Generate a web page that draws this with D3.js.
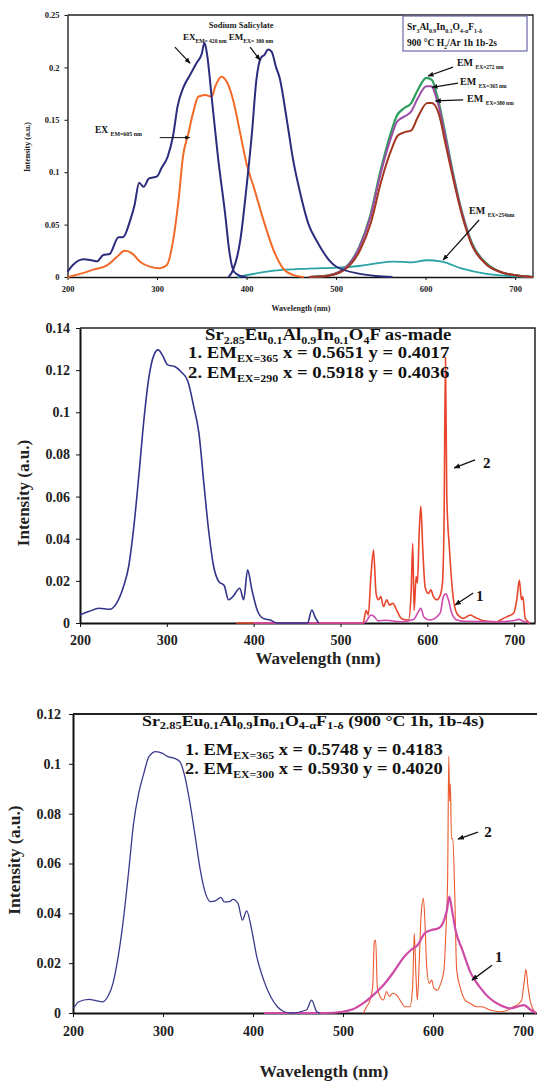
<!DOCTYPE html>
<html>
<head>
<meta charset="utf-8">
<script src="https://cdn.jsdelivr.net/npm/d3@7"></script>
<style>
  body { margin: 0; background: #fff; }
  svg text { font-family: "Liberation Serif", "Times New Roman", serif; font-weight: bold; }
</style>
</head>
<body>
<div id="chart"></div>
<script>
// ---- panel 1 : Sr3Al0.9In0.1O4-aF1-d, 900 C H2/Ar  (wavelength nm, intensity a.u.)
const p1XTicks = [200, 300, 400, 500, 600, 700];
const p1YTicks = [0, 0.05, 0.1, 0.15, 0.2, 0.25];
const salicylateEx = [[200,0.005],[206,0.0115],[218,0.017],[227,0.016],[233,0.015],[240,0.021],[247,0.022],[257,0.038],[262,0.038],[270,0.054],[275,0.069],[280,0.09],[285,0.086],[291,0.094],[300,0.096],[305,0.104],[312,0.115],[318,0.135],[323,0.163],[329,0.18],[337,0.193],[344,0.204],[350,0.213],[353,0.2235],[356,0.212],[361,0.172],[368,0.115],[376,0.061],[381,0.023],[386,0.005],[393,0.001],[400,0]];
const salicylateEm = [[380,0],[385,0.0067],[393,0.035],[400,0.086],[406,0.137],[411,0.188],[416,0.209],[420,0.212],[424,0.217],[428,0.215],[433,0.2],[437,0.19],[445,0.15],[452,0.112],[460,0.08],[469,0.051],[478,0.035],[500,0.01],[527,0.003],[545,0.001],[563,0]];
const ex605 = [[200,0],[214,0.003],[229,0.007],[244,0.011],[255,0.019],[264,0.025],[272,0.0226],[281,0.0146],[292,0.0099],[303,0.0083],[311,0.0114],[318,0.035],[324,0.073],[329,0.115],[335,0.137],[341,0.159],[346,0.172],[354,0.1736],[361,0.172],[365,0.1816],[372,0.191],[378,0.186],[385,0.169],[393,0.137],[400,0.108],[408,0.086],[419,0.054],[430,0.026],[441,0.008],[452,0.002],[464,0]];
const em272 = [[470,0],[488,0.001],[507,0.0067],[526,0.029],[538,0.058],[549,0.099],[561,0.137],[568,0.154],[576,0.161],[584,0.166],[591,0.178],[601,0.190],[607,0.188],[614,0.169],[622,0.137],[630,0.102],[641,0.061],[652,0.032],[668,0.013],[683,0.005],[706,0.001],[720,0]];
const em365 = [[470,0],[488,0.001],[507,0.0065],[526,0.028],[538,0.056],[549,0.096],[561,0.132],[568,0.148],[576,0.153],[584,0.158],[591,0.170],[601,0.182],[606,0.182],[614,0.165],[622,0.134],[630,0.100],[641,0.060],[652,0.031],[668,0.012],[683,0.005],[706,0.001],[720,0]];
const em380 = [[470,0],[490,0.001],[508,0.006],[527,0.026],[539,0.052],[550,0.090],[562,0.122],[569,0.135],[576,0.138],[584,0.140],[591,0.152],[602,0.166],[607,0.166],[615,0.155],[622,0.128],[630,0.097],[641,0.058],[652,0.030],[668,0.012],[683,0.005],[706,0.001],[720,0]];
const em254 = [[390,0],[431,0.006],[469,0.008],[500,0.009],[526,0.0105],[545,0.013],[563,0.0146],[575,0.0145],[584,0.014],[601,0.016],[618,0.0146],[641,0.008],[668,0.003],[691,0.001],[720,0]];

// ---- panel 2 : Sr2.85Eu0.1Al0.9In0.1O4F as-made
const p2XTicks = [200, 300, 400, 500, 600, 700];
const p2YTicks = [0, 0.02, 0.04, 0.06, 0.08, 0.1, 0.12, 0.14];
const p2Ex = [[200,0.0038],[210,0.0054],[222,0.007],[234,0.0065],[242,0.0093],[250,0.0172],[256,0.0267],[262,0.0457],[268,0.071],[273.5,0.096],[279.5,0.117],[285,0.127],[290,0.1296],[295,0.127],[301,0.1225],[309,0.1217],[317,0.119],[324,0.115],[331,0.1027],[337,0.09],[343,0.0647],[348.5,0.0426],[354,0.0267],[360,0.0196],[366,0.0178],[371,0.011],[376,0.0125],[384,0.0165],[388.5,0.011],[393,0.0252],[398,0.0157],[404,0.0062],[411,0.0022],[419,0.0014],[427,0],[462,0],[467,0.0062],[471,0.0025],[475,0]];
const p2Em290 = [[380,0],[526,0],[529.5,0.006],[532,0.0038],[535,0.022],[538,0.0346],[541,0.014],[543.7,0.011],[546.4,0.0125],[549.5,0.0078],[553.3,0.011],[556.4,0.0085],[560.2,0.0093],[564.8,0.006],[570.6,0.002],[578.3,0.0014],[581.3,0.014],[583.2,0.0378],[584.8,0.006],[587.1,0.022],[588.6,0.019],[590.6,0.0425],[592.5,0.0555],[594.8,0.0346],[597.5,0.017],[601.3,0.014],[604,0.0157],[607,0.0125],[610.9,0.011],[614.7,0.013],[617.4,0.019],[619.3,0.05],[620.9,0.126],[622.4,0.06],[625.5,0.035],[629.3,0.014],[633.9,0.0046],[641.5,0.0022],[649.3,0.0038],[655,0.0027],[664.7,0.0011],[680,0.0006],[687.7,0.0022],[693.5,0.0033],[699.3,0.0046],[703,0.011],[706,0.0204],[708.4,0.011],[710,0.0125],[712.7,0.0022],[718.4,0]];
const p2Em365 = [[400,0],[526,0],[530,0.001],[535,0.0038],[538,0.0033],[543.7,0.001],[552,0.0013],[569,0.0006],[584,0.0017],[589.8,0.0054],[592.5,0.007],[596.3,0.0027],[603,0.0014],[614.7,0.0046],[618.5,0.0125],[621.3,0.0138],[624.3,0.011],[628.2,0.0046],[634,0.0014],[643,0.0008],[681,0.0006],[699.3,0.0011],[705,0.0017],[710.7,0.0008],[718,0]];

// ---- panel 3 : Sr2.85Eu0.1Al0.9In0.1O4-aF1-d (900 C 1h, 1b-4s)
const p3XTicks = [200, 300, 400, 500, 600, 700];
const p3YTicks = [0, 0.02, 0.04, 0.06, 0.08, 0.1, 0.12];
const p3Ex = [[200.7,0.0019],[206.4,0.0045],[217.8,0.0055],[225.4,0.005],[233,0.0045],[238.7,0.0066],[244.4,0.0119],[250.2,0.0226],[255.9,0.0373],[261.6,0.056],[267.3,0.076],[273,0.0882],[278.7,0.0962],[284.4,0.1029],[292,0.1049],[299.6,0.1042],[305.3,0.1029],[312.9,0.1022],[318.7,0.1009],[324.3,0.0949],[330,0.0842],[335.8,0.0708],[341.4,0.0574],[347.2,0.048],[352.9,0.0447],[358.6,0.0451],[364.3,0.0464],[368.1,0.0446],[373.9,0.0447],[377.7,0.0456],[383.3,0.044],[388.3,0.0373],[392.9,0.041],[398.6,0.0333],[404.2,0.0226],[411.9,0.0132],[419.5,0.0066],[427.1,0.0025],[434.7,0.0005],[442.3,0],[459.4,0.0012],[465.1,0.0052],[470.9,0.0005],[474.7,0]];
const p3Em365 = [[412,0],[480,0],[499.4,0.0005],[510.8,0.0015],[522.2,0.0039],[533.7,0.0072],[545,0.0112],[556.5,0.0166],[568,0.0226],[575.5,0.0253],[583,0.0273],[590.8,0.032],[598.3,0.0333],[606,0.034],[611.7,0.0367],[615.5,0.0413],[618.1,0.0467],[621.1,0.0413],[625,0.0333],[632.6,0.0253],[642.1,0.0159],[651.6,0.0106],[663,0.0059],[674.4,0.0032],[685.9,0.0019],[693.5,0.0025],[701,0.0032],[708.7,0.0012],[714.4,0]];
const p3Em300 = [[522.6,0],[526.3,0.0025],[530,0.0052],[533,0.0106],[534.8,0.0286],[536.3,0.0293],[538.1,0.0106],[541.1,0.0066],[544.8,0.0052],[548.5,0.0086],[551.5,0.0066],[555.2,0.0079],[559.7,0.0072],[563.3,0.0052],[568.9,0.0025],[574.4,0.0025],[577.4,0.0106],[579.2,0.032],[581.1,0.0146],[582.6,0.0052],[584.8,0.0213],[586.7,0.0387],[589.3,0.046],[591.1,0.036],[593,0.0186],[595.9,0.0119],[598.5,0.0132],[601.1,0.0099],[604.8,0.0092],[608.6,0.0119],[612.2,0.0173],[614.4,0.0333],[616.3,0.055],[617.5,0.103],[618.5,0.085],[619.3,0.092],[620.5,0.07],[622,0.07],[624,0.05],[626.3,0.0173],[630,0.0106],[635.6,0.0052],[641.1,0.0039],[648.5,0.0025],[654.1,0.0025],[663.3,0.0012],[674.4,0.0005],[683.7,0.0012],[689.3,0.0025],[694.8,0.0036],[698.5,0.0052],[701.1,0.0119],[703.3,0.0175],[705.5,0.0106],[707.8,0.0052],[711.5,0.0012],[715,0]];

const svg = d3.select("#chart").append("svg")
  .attr("width", 537)
  .attr("height", 1082);

const defs = svg.append("defs");
defs.append("marker")
  .attr("id", "arr")
  .attr("viewBox", "0 0 10 10")
  .attr("refX", 9).attr("refY", 5)
  .attr("markerWidth", 5).attr("markerHeight", 5)
  .attr("orient", "auto")
  .append("path").attr("d", "M0,1 L10,5 L0,9 Z").attr("fill", "#111");

// text with subscripts: parts = [[text, isSub, subRatio], ...]; sx stretches horizontally
function rich(g, x, y, parts, size, sx, subDrop) {
  const t = g.append("text")
    .attr("transform", `translate(${x},${y}) scale(${sx || 1},1)`)
    .attr("font-size", size)
    .attr("fill", "#111");
  const drop = size * (subDrop || 0.3);
  let down = false;
  parts.forEach(p => {
    const sub = p[1];
    const ts = t.append("tspan").text(p[0]);
    if (sub && !down) { ts.attr("dy", drop); down = true; }
    else if (!sub && down) { ts.attr("dy", -drop); down = false; }
    if (sub) ts.attr("font-size", size * (p[2] || 0.62));
  });
  return t;
}

function arrow(g, x1, y1, x2, y2, w) {
  g.append("line")
    .attr("x1", x1).attr("y1", y1).attr("x2", x2).attr("y2", y2)
    .attr("stroke", "#111").attr("stroke-width", w || 1.2)
    .attr("marker-end", "url(#arr)");
}

function panel(o) {
  const x = d3.scaleLinear().domain(o.xDomain).range(o.xRange);
  const y = d3.scaleLinear().domain(o.yDomain).range(o.yRange);
  const g = svg.append("g");

  // frame (top / right)
  g.append("path")
    .attr("d", `M${o.xRange[0]},${o.yRange[1]} H${o.frameRight} ${o.rightSide ? "V" + o.yRange[0] : ""}`)
    .attr("fill", "none").attr("stroke", "#222").attr("stroke-width", o.frameW);

  const xa = g.append("g")
    .attr("transform", `translate(0,${o.yRange[0]})`)
    .call(d3.axisBottom(x).tickValues(o.xTicks).tickSize(o.tick).tickSizeOuter(0)
      .tickPadding(o.xPad).tickFormat(d3.format("d")));
  const ya = g.append("g")
    .attr("transform", `translate(${o.xRange[0]},0)`)
    .call(d3.axisLeft(y).tickValues(o.yTicks).tickSize(o.tick).tickSizeOuter(0)
      .tickPadding(o.yPad).tickFormat(d => d === 0 ? "0" : String(+d.toFixed(2))));
  [xa, ya].forEach(a => {
    a.select(".domain").attr("stroke", "#111").attr("stroke-width", o.axisW);
    a.selectAll(".tick line").attr("stroke", "#111").attr("stroke-width", 1);
    a.selectAll(".tick text").attr("font-size", o.fs).attr("fill", "#222")
      .style("font-family", "'Liberation Serif', serif").style("font-weight", "bold");
  });

  g.append("text")
    .attr("x", o.xTitle[0]).attr("y", o.xTitle[1])
    .attr("text-anchor", "middle").attr("font-size", o.titleFs).attr("fill", "#222")
    .text("Wavelength (nm)");
  g.append("text")
    .attr("transform", `translate(${o.yTitle[0]},${o.yTitle[1]}) rotate(-90)`)
    .attr("text-anchor", "middle").attr("font-size", o.titleFs).attr("fill", "#222")
    .text("Intensity (a.u.)");

  const line = d3.line().x(d => x(d[0])).y(d => y(d[1])).curve(d3.curveMonotoneX);
  o.series.forEach(s => {
    g.append("path").datum(s.data)
      .attr("d", line)
      .attr("fill", "none")
      .attr("stroke", s.color)
      .attr("stroke-width", s.w)
      .attr("stroke-linejoin", "round");
  });
  return { g, x, y };
}

// ---------- panel 1
const P1 = panel({
  xDomain: [200, 720], xRange: [67.5, 533],
  yDomain: [0, 0.25], yRange: [277, 15],
  frameRight: 533, rightSide: true, frameW: 1.3, axisW: 1.3,
  xTicks: p1XTicks, yTicks: p1YTicks, tick: 3, xPad: 6, yPad: 5, fs: 8.5,
  xTitle: [301, 311], yTitle: [30, 147], titleFs: 8,
  series: [
    { data: em254, color: "#2aa3a6", w: 1.8 },
    { data: em272, color: "#2f9d5c", w: 2.2 },
    { data: em365, color: "#9a4ea6", w: 2 },
    { data: em380, color: "#a3361f", w: 2 },
    { data: ex605, color: "#f26a28", w: 2 },
    { data: salicylateEx, color: "#2b2c7c", w: 2 },
    { data: salicylateEm, color: "#2b2c7c", w: 2 }
  ]
});
{
  const { g, x, y } = P1;
  g.append("text").attr("x", x(394)).attr("y", y(0.238)).attr("text-anchor", "middle")
    .attr("font-size", 8.5).attr("fill", "#222").text("Sodium Salicylate");
  rich(g, x(329), y(0.226), [["EX", 0], ["EM= 420 nm", 1], [" EM", 0], ["EX= 300 nm", 1]], 9);
  arrow(g, x(320), y(0.2194), x(336.9), y(0.204));
  arrow(g, x(404), y(0.2194), x(415), y(0.207));
  rich(g, x(230.7), y(0.137), [["EX ", 0], ["EM=605 nm", 1]], 9.5);
  g.append("line").attr("x1", x(303)).attr("y1", y(0.133)).attr("x2", x(336.5)).attr("y2", y(0.133))
    .attr("stroke", "#111").attr("stroke-width", 1).attr("marker-end", "url(#arr)");

  g.append("rect").attr("x", 403).attr("y", 16).attr("width", 124).attr("height", 35)
    .attr("fill", "#fff").attr("stroke", "#6a6aa8").attr("stroke-width", 1.2);
  rich(g, 407, 30, [["Sr", 0], ["3", 1], ["Al", 0], ["0.9", 1], ["In", 0], ["0.1", 1], ["O", 0], ["4-α", 1], ["F", 0], ["1-δ", 1]], 9.5);
  rich(g, 407, 46, [["900 °C H", 0], ["2", 1], ["/Ar 1h 1b-2s", 0]], 9.5);

  rich(g, x(635), y(0.201), [["EM ", 0], ["EX=272 nm", 1, 0.55]], 10);
  arrow(g, x(630.7), y(0.2003), x(602.8), y(0.1918));
  rich(g, x(638.5), y(0.183), [["EM ", 0], ["EX=365 nm", 1, 0.55]], 10);
  arrow(g, x(636.3), y(0.185), x(607.3), y(0.181));
  rich(g, x(646.4), y(0.167), [["EM ", 0], ["EX=380 nm", 1, 0.55]], 10);
  arrow(g, x(642), y(0.169), x(611), y(0.168));
  rich(g, x(648.6), y(0.060), [["EM ", 0], ["EX=254nm", 1, 0.55]], 10);
  arrow(g, x(659.8), y(0.0544), x(619.6), y(0.0162));
}

// ---------- panel 2
const P2 = panel({
  xDomain: [200, 724], xRange: [80, 535],
  yDomain: [0, 0.14], yRange: [623, 328],
  frameRight: 535, rightSide: true, frameW: 1.5, axisW: 2,
  xTicks: p2XTicks, yTicks: p2YTicks, tick: 4, xPad: 8, yPad: 6, fs: 14,
  xTitle: [318, 664], yTitle: [29, 493], titleFs: 17,
  series: [
    { data: p2Em290, color: "#e8452c", w: 1.6 },
    { data: p2Em365, color: "#d04ab0", w: 1.6 },
    { data: p2Ex, color: "#33348a", w: 1.6 }
  ]
});
{
  const { g, x, y } = P2;
  rich(g, x(344), y(0.1341), [["Sr", 0], ["2.85", 1, 0.64], ["Eu", 0], ["0.1", 1, 0.64], ["Al", 0], ["0.9", 1, 0.64], ["In", 0], ["0.1", 1, 0.64], ["O", 0], ["4", 1, 0.64], ["F as-made", 0]], 16, 1.17, 0.2);
  rich(g, x(324.4), y(0.1256), [["1. EM", 0], ["EX=365", 1, 0.64], [" x = 0.5651  y = 0.4017", 0]], 16, 1.17, 0.22);
  rich(g, x(324.4), y(0.1161), [["2. EM", 0], ["EX=290", 1, 0.64], [" x = 0.5918  y = 0.4036", 0]], 16, 1.17, 0.22);
  arrow(g, x(655), y(0.0774), x(630.9), y(0.0736), 1.3);
  g.append("text").attr("x", x(664)).attr("y", y(0.0735)).attr("font-size", 15).attr("fill", "#111").text("2");
  arrow(g, x(652.8), y(0.01425), x(632), y(0.00855), 1.3);
  g.append("text").attr("x", x(656)).attr("y", y(0.0104)).attr("font-size", 15).attr("fill", "#111").text("1");
}

// ---------- panel 3
const P3 = panel({
  xDomain: [200, 720], xRange: [73, 541],
  yDomain: [0, 0.12], yRange: [1013, 714],
  frameRight: 541, rightSide: false, frameW: 2, axisW: 2,
  xTicks: p3XTicks, yTicks: p3YTicks, tick: 4, xPad: 9, yPad: 8, fs: 14,
  xTitle: [324, 1077], yTitle: [20, 860], titleFs: 17.5,
  series: [
    { data: p3Em300, color: "#ea5a2e", w: 1.1 },
    { data: p3Em365, color: "#cf4aa6", w: 2.2 },
    { data: p3Ex, color: "#3a3a8c", w: 1.3 }
  ]
});
{
  const { g, x, y } = P3;
  rich(g, x(276.7), y(0.1151), [["Sr", 0], ["2.85", 1, 0.7], ["Eu", 0], ["0.1", 1, 0.7], ["Al", 0], ["0.9", 1, 0.7], ["In", 0], ["0.1", 1, 0.7], ["O", 0], ["4-α", 1, 0.7], ["F", 0], ["1-δ", 1, 0.7], [" (900 °C 1h, 1b-4s)", 0]], 15.5, 1.15, 0.2);
  rich(g, x(324.4), y(0.1035), [["1. EM", 0], ["EX=365", 1, 0.64], [" x = 0.5748 y = 0.4183", 0]], 16.5, 1.12, 0.22);
  rich(g, x(324.4), y(0.0958), [["2. EM", 0], ["EX=300", 1, 0.64], [" x = 0.5930 y = 0.4020", 0]], 16.5, 1.12, 0.22);
  arrow(g, x(650), y(0.0726), x(627.8), y(0.0698), 1.3);
  g.append("text").attr("x", x(657)).attr("y", y(0.0705)).attr("font-size", 15).attr("fill", "#111").text("2");
  arrow(g, x(665.6), y(0.0192), x(643.3), y(0.0132), 1.3);
  g.append("text").attr("x", x(669)).attr("y", y(0.0205)).attr("font-size", 15).attr("fill", "#111").text("1");
}
</script>
</body>
</html>
